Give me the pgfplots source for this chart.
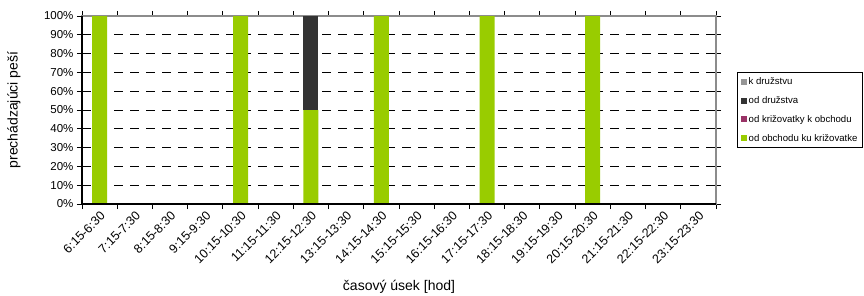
\documentclass[border=0pt]{standalone}
\usepackage{fontspec}
\setmainfont{Liberation Sans}
\usepackage{pgfplots}
\pgfplotsset{compat=1.18}
\definecolor{cgreen}{HTML}{99CC00}
\definecolor{cdark}{HTML}{333333}
\definecolor{cmag}{HTML}{993366}
\definecolor{cgray}{HTML}{969696}
\definecolor{cborder}{HTML}{8C8C8C}
\begin{document}
\begin{tikzpicture}
\useasboundingbox (0,0) rectangle (864pt,295pt);
\begin{axis}[
  at={(82pt,91pt)}, anchor=south west,
  scale only axis, width=634pt, height=188pt,
  ybar stacked, bar width=15pt,
  xmin=-0.5, xmax=17.5, ymin=0, ymax=100,
  xtick={-0.5,0.5,...,17.5},
  x tick label as interval,
  xticklabels={6:15-6:30,7:15-7:30,8:15-8:30,9:15-9:30,10:15-10:30,11:15-11:30,12:15-12:30,13:15-13:30,14:15-14:30,15:15-15:30,16:15-16:30,17:15-17:30,18:15-18:30,19:15-19:30,20:15-20:30,21:15-21:30,22:15-22:30,23:15-23:30},
  x tick label style={rotate=45, anchor=north east, font=\fontsize{12.5}{14}\selectfont, inner sep=1pt},
  ytick={0,10,...,100},
  yticklabel={\pgfmathprintnumber{\tick}\%},
  y tick label style={font=\fontsize{11.5}{13}\selectfont},
  /pgf/number format/assume math mode=true,
  tick align=outside, major tick length=5pt,
  tick style={black, line width=1pt},
  extra y ticks={10,20,...,90},
  extra y tick labels={},
  extra y tick style={grid=major, major tick length=0pt},
  grid style={black, line width=0.8pt, dash pattern=on 9pt off 7pt},
  axis line style={cborder, line width=1.6pt},
  xlabel={časový úsek [hod]},
  ylabel={prechádzajúci peší},
  xlabel style={at={(axis description cs:0.5,-0.4415)}, anchor=center, font=\fontsize{14}{16}\selectfont},
  ylabel style={at={(axis description cs:-0.1073,0.5)}, anchor=center, font=\fontsize{14}{16}\selectfont},
  legend style={at={(axis description cs:1.033,0.5)}, anchor=west, draw=black, line width=1.5pt,
    font=\fontsize{9.6}{11}\selectfont, row sep=6.5pt, inner sep=3pt, cells={anchor=west}},
  legend image code/.code={\fill[#1,draw=none] (0pt,-3pt) rectangle (6pt,3pt);},
  reverse legend,
  after end axis/.code={\draw[black, line width=1.3pt] (rel axis cs:0,1) -- (rel axis cs:0,0) -- (rel axis cs:1,0);},
]
\addplot[fill=cgreen, draw=none] coordinates {(0,100) (1,0) (2,0) (3,0) (4,100) (5,0) (6,50) (7,0) (8,100) (9,0) (10,0) (11,100) (12,0) (13,0) (14,100) (15,0) (16,0) (17,0)};
\addlegendentry{od obchodu ku križovatke}
\addplot[fill=cmag, draw=none] coordinates {(0,0) (1,0) (2,0) (3,0) (4,0) (5,0) (6,0) (7,0) (8,0) (9,0) (10,0) (11,0) (12,0) (13,0) (14,0) (15,0) (16,0) (17,0)};
\addlegendentry{od križovatky k obchodu}
\addplot[fill=cdark, draw=none] coordinates {(0,0) (1,0) (2,0) (3,0) (4,0) (5,0) (6,50) (7,0) (8,0) (9,0) (10,0) (11,0) (12,0) (13,0) (14,0) (15,0) (16,0) (17,0)};
\addlegendentry{od družstva}
\addplot[fill=cgray, draw=none] coordinates {(0,0) (1,0) (2,0) (3,0) (4,0) (5,0) (6,0) (7,0) (8,0) (9,0) (10,0) (11,0) (12,0) (13,0) (14,0) (15,0) (16,0) (17,0)};
\addlegendentry{k družstvu}
\end{axis}
\end{tikzpicture}
\end{document}
